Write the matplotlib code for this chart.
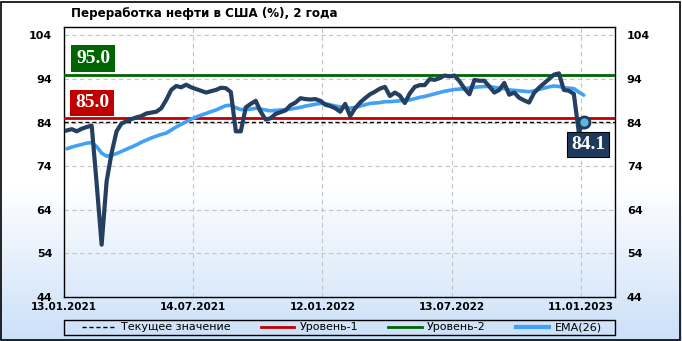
import numpy as np
import pandas as pd
import matplotlib
matplotlib.use("Agg")
import matplotlib.pyplot as plt
import matplotlib.dates as mdates
from matplotlib.lines import Line2D
from matplotlib.patches import Rectangle

plt.rcParams['font.family'] = ['DejaVu Sans']

title = "Переработка нефти в США (%), 2 года"
start_date = "2021-01-17"
refining = [
    82.2, 82.5, 82.0, 82.6, 83.0, 83.3, 70.0, 56.0, 70.5, 77.0,
    82.0, 83.8, 84.3, 84.8, 85.2, 85.5, 86.1, 86.3, 86.5, 87.3,
    89.2, 91.5, 92.4, 92.1, 92.7, 92.1, 91.7, 91.3, 90.9, 91.2,
    91.5, 92.0, 91.9, 91.0, 82.0, 82.0, 87.5, 88.3, 89.0, 86.5,
    84.7, 85.0, 86.0, 86.4, 86.8, 88.0, 88.6, 89.6, 89.4, 89.3,
    89.4, 89.0, 88.1, 87.8, 87.3, 86.5, 88.3, 85.5, 87.3, 88.6,
    89.6, 90.5, 91.1, 91.8, 92.2, 90.1, 90.9, 90.2, 88.5, 90.7,
    92.2, 92.6, 92.6, 94.0, 93.8, 94.2, 94.8, 94.6, 94.8, 93.5,
    91.8, 90.5, 93.8, 93.6, 93.6, 92.3, 90.9, 91.5, 93.1, 90.4,
    90.9, 89.7, 89.1, 88.6, 90.8, 92.0, 93.0, 94.0, 95.0, 95.3,
    91.5, 91.3, 90.6, 81.8, 84.1,
]
ema26 = [
    78.0, 78.4, 78.7, 79.0, 79.3, 79.4, 78.5, 77.0, 76.3, 76.5,
    76.9, 77.4, 77.9, 78.4, 78.9, 79.5, 80.0, 80.5, 80.9, 81.3,
    81.6, 82.3, 83.0, 83.6, 84.2, 84.8, 85.3, 85.7, 86.1, 86.5,
    86.9, 87.4, 87.9, 88.0, 87.4, 87.0, 87.0, 87.1, 87.3, 87.1,
    86.9, 86.7, 86.8, 86.9, 87.0, 87.1, 87.3, 87.5, 87.8, 88.0,
    88.2, 88.4, 88.4, 88.1, 87.8, 87.6, 87.5, 87.3, 87.5, 87.8,
    88.1, 88.4, 88.5, 88.6, 88.8, 88.8, 88.9, 89.0, 89.1, 89.2,
    89.5, 89.8, 90.0, 90.3, 90.6, 90.9, 91.2, 91.4, 91.6, 91.7,
    91.8, 92.0, 92.1, 92.2, 92.3, 92.3, 92.1, 91.9, 91.8, 91.5,
    91.4, 91.3, 91.2, 91.1, 91.3, 91.6, 91.9, 92.2, 92.4, 92.3,
    92.0, 91.9, 91.8, 91.0, 90.3,
]
level1 = 85.0
level2 = 95.0
current = 84.1
tick_dates = ["2021-01-13", "2021-07-14", "2022-01-12", "2022-07-13", "2023-01-11"]
y_ticks = [44, 54, 64, 74, 84, 94, 104]
legend_labels = ["Текущее значение", "Уровень-1", "Уровень-2", "EMA(26)"]

dates = pd.date_range(start_date, periods=len(refining), freq="7D")
tdates = pd.to_datetime(tick_dates)

W, H = 682, 341
fig = plt.figure(figsize=(W / 100, H / 100), dpi=100)

# background gradient
bg = fig.add_axes([0, 0, 1, 1], zorder=-10)
bg.set_axis_off()
grad = np.ones((H, 1, 3))
top_c = np.array([1.0, 1.0, 1.0])
bot_c = np.array([0xcb, 0xe0, 0xf8]) / 255
for r in range(H):
    if r < 185:
        grad[r, 0] = top_c
    else:
        t = (r - 185) / (H - 185)
        grad[r, 0] = top_c * (1 - t) + bot_c * t
bg.imshow(grad, aspect="auto", extent=[0, 1, 0, 1])
bg.set_xlim(0, 1)
bg.set_ylim(0, 1)
fig.patches.append(Rectangle((1 / W, 1 / H), 1 - 3 / W, 1 - 3 / H, transform=fig.transFigure,
                             fill=False, edgecolor="black", linewidth=1.2, zorder=5))

ax = fig.add_axes([64 / W, 1 - 297 / H, 551 / W, (297 - 26.7) / H])
ax.set_facecolor("none")
ax.set_ylim(44, 106)
ax.set_xlim(pd.Timestamp("2021-01-13"), pd.Timestamp("2021-01-13") + pd.Timedelta(days=776))

ax.set_yticks(y_ticks)
ax.set_xticks(tdates)
ax.xaxis.set_major_formatter(mdates.DateFormatter("%d.%m.%Y"))
ax.tick_params(axis="y", length=0, pad=8.5, labelsize=8, labelright=True, right=False)
ax.tick_params(axis="x", length=0, pad=3.5, labelsize=7.5)
for t in ax.yaxis.get_major_ticks():
    t.label1.set_fontweight("bold")
    t.label2.set_fontweight("bold")
for t in ax.xaxis.get_major_ticks():
    t.label1.set_fontweight("bold")

ax.grid(True, color="#c4c4c4", linestyle=(0, (4, 3)), linewidth=0.8)
for s in ax.spines.values():
    s.set_color("black")
    s.set_linewidth(1)

ax.axhline(level2, color="#006400", linewidth=2, zorder=3)
ax.axhline(level1, color="#c00000", linewidth=2, zorder=3)
ax.axhline(current, color="black", linewidth=1, linestyle=(0, (3, 2)), zorder=3)

ax.plot(dates, ema26, color="#42a0f5", linewidth=2.6, zorder=4, solid_capstyle="round")
ax.plot(dates, refining, color="#243f60", linewidth=3, zorder=5, solid_joinstyle="round")
ax.plot(dates[-1], refining[-1], marker="o", markersize=8, markerfacecolor="#5bb8dc",
        markeredgecolor="#1d3a5c", markeredgewidth=2, zorder=6)

lab_kw = dict(color="white", fontsize=14, fontweight="bold", family="Liberation Serif", zorder=7)
ax.text(0.0218, 98.8, f"{level2:.1f}", transform=ax.get_yaxis_transform(), ha="left", va="center",
        bbox=dict(boxstyle="square,pad=0.26", facecolor="#006400", edgecolor="none"), **lab_kw)
ax.text(0.0200, 88.5, f"{level1:.1f}", transform=ax.get_yaxis_transform(), ha="left", va="center",
        bbox=dict(boxstyle="square,pad=0.24", facecolor="#c00000", edgecolor="none"), **lab_kw)
ax.annotate(f"{refining[-1]:.1f}", xy=(dates[-1], refining[-1]), xytext=(3.2, -16.3),
            textcoords="offset points", ha="center", va="center",
            bbox=dict(boxstyle="square,pad=0.2", facecolor="#1d3a5c", edgecolor="black", linewidth=0.8),
            **lab_kw)

fig.text(71 / W, 1 - 14 / H, title, ha="left", va="center", fontsize=8.6, fontweight="bold")

handles = [
    Line2D([], [], color="black", linewidth=1, linestyle=(0, (3, 2))),
    Line2D([], [], color="#c00000", linewidth=2),
    Line2D([], [], color="#006400", linewidth=2),
    Line2D([], [], color="#42a0f5", linewidth=3),
]
fig.patches.append(Rectangle((64 / W, 1 - 335 / H), 551 / W, 15 / H, transform=fig.transFigure,
                             fill=False, edgecolor="black", linewidth=1, zorder=5))
leg = fig.legend(handles, legend_labels, loc="center",
                 bbox_to_anchor=(342 / W, 1 - 327.5 / H), ncol=4,
                 fontsize=8, frameon=False,
                 handlelength=3.0, handletextpad=0.5, borderpad=0, borderaxespad=0,
                 columnspacing=2.7)

fig.savefig("out.png", dpi=100)
